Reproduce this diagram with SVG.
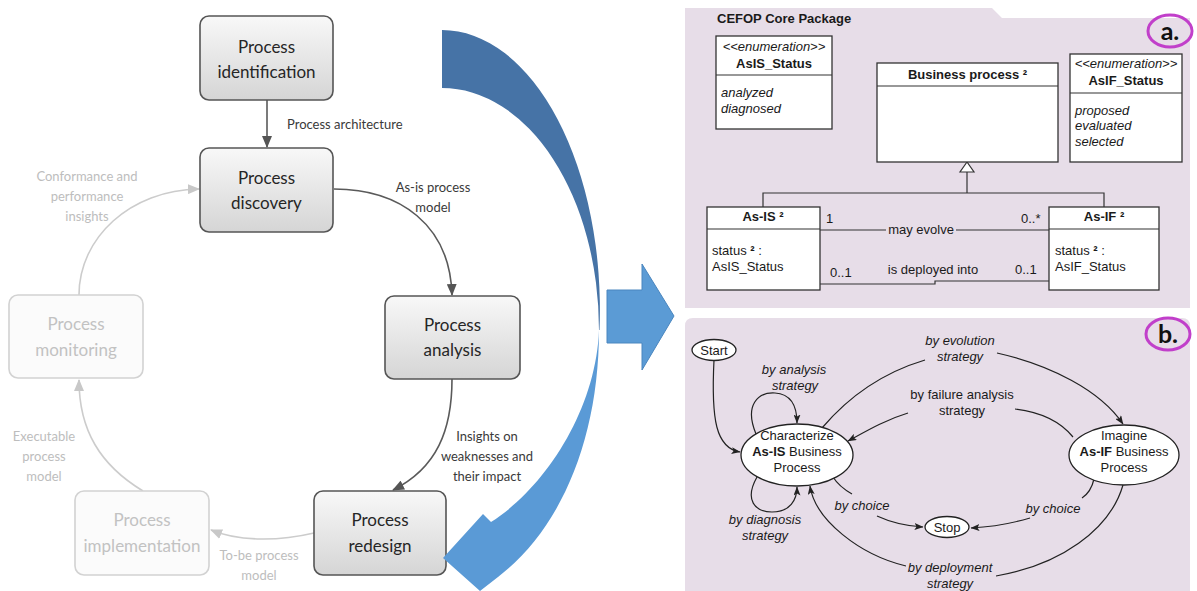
<svg xmlns="http://www.w3.org/2000/svg" width="1197" height="591" viewBox="0 0 1197 591">
<defs>
<style>
.nd{fill:url(#gNode);stroke:#555;stroke-width:1.6}
.nl{fill:#fbfbfb;stroke:#d2d2d2;stroke-width:1.6}
.tn{font-family:Lato,"Open Sans",sans-serif;font-size:17px;fill:#262626;text-anchor:middle}
.tl{font-family:Lato,"Open Sans",sans-serif;font-size:17px;fill:#c2c2c2;text-anchor:middle}
.lb{font-family:Lato,"Open Sans",sans-serif;font-size:13px;fill:#3a3a3a}
.lg{font-family:Lato,"Open Sans",sans-serif;font-size:13px;fill:#bdbdbd;text-anchor:middle}
.cd{fill:none;stroke:#5a5a5a;stroke-width:1.6}
.cl{fill:none;stroke:#cccccc;stroke-width:1.6}
.panel{fill:#e7dde8}
.box{fill:#fff;stroke:#333;stroke-width:1.3}
.u{font-family:"Liberation Sans",Arial,sans-serif;font-size:13px;fill:#1a1a1a}
.ub{font-family:"Liberation Sans",Arial,sans-serif;font-size:13px;font-weight:bold;fill:#1a1a1a;text-anchor:middle}
.ui{font-family:"Liberation Sans",Arial,sans-serif;font-size:13px;font-style:italic;fill:#1a1a1a}
.ul{fill:none;stroke:#333;stroke-width:1.2}
.st{fill:#fff;stroke:#222;stroke-width:1.3}
.sl{fill:none;stroke:#222;stroke-width:1.2}
.ring{fill:none;stroke:#c13fca;stroke-width:3}
.tag{font-family:Lato,"Open Sans",sans-serif;font-size:25px;font-weight:bold;fill:#111;text-anchor:middle}
</style>
<linearGradient id="gNode" x1="0" y1="0" x2="0" y2="1">
<stop offset="0" stop-color="#f8f8f8"/>
<stop offset="1" stop-color="#d5d5d5"/>
</linearGradient>
<marker id="ahD" viewBox="0 0 12 10" refX="11" refY="5" markerWidth="12" markerHeight="10" markerUnits="userSpaceOnUse" orient="auto">
<path d="M0,0 L12,5 L0,10 Z" fill="#555"/>
</marker>
<marker id="ahL" viewBox="0 0 12 10" refX="11" refY="5" markerWidth="12" markerHeight="10" markerUnits="userSpaceOnUse" orient="auto">
<path d="M0,0 L12,5 L0,10 Z" fill="#c8c8c8"/>
</marker>
<marker id="ahB" viewBox="0 0 9 7" refX="8.5" refY="3.5" markerWidth="9" markerHeight="7" markerUnits="userSpaceOnUse" orient="auto">
<path d="M0,0 L9,3.5 L0,7 L2,3.5 Z" fill="#222"/>
</marker>
</defs>
<rect x="0" y="0" width="1197" height="591" fill="#fff"/>

<!-- Left: BPM lifecycle -->
<g id="bpm-connectors">
<path class="cd" d="M267,100 L267,147" marker-end="url(#ahD)"/>
<path class="cd" d="M334,189 C400,189 450,225 452,295" marker-end="url(#ahD)"/>
<path class="cd" d="M452,379 C452,430 437,468 393,490" marker-end="url(#ahD)"/>
<path class="cl" d="M314,533 C280,541 240,542 211,530" marker-end="url(#ahL)"/>
<path class="cl" d="M143,491 C100,465 79,430 79,380" marker-end="url(#ahL)"/>
<path class="cl" d="M79,295 C79,238 130,190 199,189" marker-end="url(#ahL)"/>
</g>
<g id="bpm-labels">
<text class="lb" x="287" y="129">Process architecture</text>
<text class="lb" x="433" y="192" text-anchor="middle">As-is process</text>
<text class="lb" x="433" y="212" text-anchor="middle">model</text>
<text class="lb" x="487" y="441" text-anchor="middle">Insights on</text>
<text class="lb" x="487" y="461" text-anchor="middle">weaknesses and</text>
<text class="lb" x="487" y="481" text-anchor="middle">their impact</text>
<text class="lg" x="259" y="560">To-be process</text>
<text class="lg" x="259" y="580">model</text>
<text class="lg" x="44" y="441">Executable</text>
<text class="lg" x="44" y="461">process</text>
<text class="lg" x="44" y="481">model</text>
<text class="lg" x="87" y="181">Conformance and</text>
<text class="lg" x="87" y="201">performance</text>
<text class="lg" x="87" y="221">insights</text>
</g>
<g id="node-identification">
<rect class="nd" x="200" y="16" width="133" height="84" rx="9"/>
<text class="tn" x="266.5" y="53">Process</text>
<text class="tn" x="266.5" y="78">identification</text>
</g>
<g id="node-discovery">
<rect class="nd" x="200" y="148" width="133" height="84" rx="9"/>
<text class="tn" x="266.5" y="184">Process</text>
<text class="tn" x="266.5" y="209">discovery</text>
</g>
<g id="node-analysis">
<rect class="nd" x="385" y="296" width="135" height="83" rx="9"/>
<text class="tn" x="452.5" y="331">Process</text>
<text class="tn" x="452.5" y="356">analysis</text>
</g>
<g id="node-redesign">
<rect class="nd" x="314" y="491" width="132" height="84" rx="9"/>
<text class="tn" x="380" y="526">Process</text>
<text class="tn" x="380" y="552">redesign</text>
</g>
<g id="node-implementation">
<rect class="nl" x="75" y="491" width="134" height="84" rx="9"/>
<text class="tl" x="142" y="526">Process</text>
<text class="tl" x="142" y="552">implementation</text>
</g>
<g id="node-monitoring">
<rect class="nl" x="9" y="295" width="134" height="83" rx="9"/>
<text class="tl" x="76" y="330">Process</text>
<text class="tl" x="76" y="356">monitoring</text>
</g>

<!-- Big curved arrow -->
<g id="curved-arrow">
<path d="M442,30 A158,280 0 0 1 599.5,330 L599,330 A157,242 0 0 0 442,88 Z" fill="#4673a6"/>
<path d="M599,330 C599,440 560,530 498,577 L480,591 L443,558 L483,514 L491,522 C545,488 596,410 599,330 Z" fill="#5a9ad6"/>
</g>
<g id="block-arrow">
<path d="M607,290 L642,290 L642,264 L674,316 L642,370 L642,343 L607,343 Z" fill="#5b9bd5" stroke="#4a86bf" stroke-width="1"/>
</g>

<!-- Panel a -->
<g id="panel-a">
<path class="panel" d="M685,8 L992,8 L1002,18 L1190,18 L1190,308 L685,308 Z"/>
<text x="717" y="23" font-family="Liberation Sans, Arial, sans-serif" font-size="13" font-weight="bold" fill="#1a1a1a">CEFOP Core Package</text>
<ellipse class="ring" cx="1170" cy="31" rx="22" ry="16" fill="#fff"/>
<text class="tag" x="1170" y="40">a.</text>
</g>
<g id="uml-connectors">
<polyline class="ul" points="763,207 763,193 1104,193 1104,207"/>
<line class="ul" x1="967" y1="193" x2="967" y2="172"/>
<polygon points="967,162 960,172 974,172" fill="#fff" stroke="#333" stroke-width="1.2"/>
<line class="ul" x1="820" y1="230" x2="886" y2="230"/>
<line class="ul" x1="956" y1="230" x2="1049" y2="230"/>
<polyline class="ul" points="820,284 935,284 935,281 1049,281"/>
<text class="u" x="826" y="223">1</text>
<text class="u" x="1021" y="223">0..*</text>
<text class="u" x="921" y="234" text-anchor="middle" font-size="13.5">may evolve</text>
<text class="u" x="830" y="277">0..1</text>
<text class="u" x="933" y="274" text-anchor="middle" font-size="13.5">is deployed into</text>
<text class="u" x="1015" y="274">0..1</text>
</g>
<g id="class-asis-status">
<rect class="box" x="716" y="36" width="116" height="93"/>
<line class="ul" x1="716" y1="75" x2="832" y2="75"/>
<text class="ui" x="774" y="51" text-anchor="middle" font-size="13.5">&lt;&lt;enumeration&gt;&gt;</text>
<text class="ub" x="774" y="67.5" font-size="13.5">AsIS_Status</text>
<text class="ui" x="721" y="97">analyzed</text>
<text class="ui" x="721" y="113">diagnosed</text>
</g>
<g id="class-business-process">
<rect class="box" x="877" y="63" width="181" height="99"/>
<line class="ul" x1="877" y1="86" x2="1058" y2="86"/>
<text class="ub" x="967.5" y="78.5">Business process ²</text>
</g>
<g id="class-asif-status">
<rect class="box" x="1070" y="54" width="112" height="108"/>
<line class="ul" x1="1070" y1="93" x2="1182" y2="93"/>
<text class="ui" x="1126" y="67.5" text-anchor="middle" font-size="13.5">&lt;&lt;enumeration&gt;&gt;</text>
<text class="ub" x="1126" y="84.5" font-size="13.5">AsIF_Status</text>
<text class="ui" x="1075" y="114.5">proposed</text>
<text class="ui" x="1075" y="130">evaluated</text>
<text class="ui" x="1075" y="145.5">selected</text>
</g>
<g id="class-asis">
<rect class="box" x="707" y="207" width="113" height="83"/>
<line class="ul" x1="707" y1="229" x2="820" y2="229"/>
<text class="ub" x="763" y="221">As-IS ²</text>
<text class="u" x="712" y="254.5">status <tspan font-weight="bold">²</tspan> :</text>
<text class="u" x="712" y="271">AsIS_Status</text>
</g>
<g id="class-asif">
<rect class="box" x="1049" y="207" width="110" height="83"/>
<line class="ul" x1="1049" y1="229" x2="1159" y2="229"/>
<text class="ub" x="1104" y="221">As-IF ²</text>
<text class="u" x="1055" y="254.5">status <tspan font-weight="bold">²</tspan> :</text>
<text class="u" x="1055" y="271">AsIF_Status</text>
</g>

<!-- Panel b -->
<g id="panel-b">
<path class="panel" d="M693,318 L1182,318 Q1190,318 1190,326 L1190,591 L685,591 L685,326 Q685,318 693,318 Z"/>
<ellipse class="ring" cx="1168" cy="334" rx="22" ry="16" fill="#fff"/>
<text class="tag" x="1168" y="343">b.</text>
</g>
<g id="map-connectors">
<path class="sl" d="M714,360 C711,420 716,448 740,452" marker-end="url(#ahB)"/>
<path class="sl" d="M756,434 C744,405 758,392 775,393 C790,394 797,405 797,423" marker-end="url(#ahB)"/>
<path class="sl" d="M757,477 C744,500 755,512 772,512 C790,512 797,500 797,487" marker-end="url(#ahB)"/>
<path class="sl" d="M822,428 C850,395 885,372 925,360"/>
<path class="sl" d="M997,353 C1050,365 1100,390 1123,424" marker-end="url(#ahB)"/>
<path class="sl" d="M1073,437 C1060,421 1040,412 1015,409"/>
<path class="sl" d="M908,413 C885,420 868,430 848,441" marker-end="url(#ahB)"/>
<path class="sl" d="M833,477 C838,485 845,490 852,494"/>
<path class="sl" d="M877,516 C890,522 905,526 923,527" marker-end="url(#ahB)"/>
<path class="sl" d="M1094,479 C1092,488 1088,494 1082,498"/>
<path class="sl" d="M1030,518 C1010,524 990,527 971,528" marker-end="url(#ahB)"/>
<path class="sl" d="M1123,485 C1110,530 1060,565 996,576"/>
<path class="sl" d="M906,566 C860,555 815,520 810,486" marker-end="url(#ahB)"/>
<text class="ui" x="960" y="345" text-anchor="middle" font-size="13.5">by evolution</text>
<text class="ui" x="960" y="361" text-anchor="middle" font-size="13.5">strategy</text>
<text class="u" x="962" y="399" text-anchor="middle" font-size="13.5">by failure analysis</text>
<text class="u" x="962" y="415" text-anchor="middle" font-size="13.5">strategy</text>
<text class="ui" x="794" y="374" text-anchor="middle" font-size="13.5">by analysis</text>
<text class="ui" x="795" y="390" text-anchor="middle" font-size="13.5">strategy</text>
<text class="ui" x="765" y="524" text-anchor="middle" font-size="13.5">by diagnosis</text>
<text class="ui" x="765" y="540" text-anchor="middle" font-size="13.5">strategy</text>
<text class="ui" x="862" y="510" text-anchor="middle" font-size="13.5">by choice</text>
<text class="ui" x="1053" y="513" text-anchor="middle" font-size="13.5">by choice</text>
<text class="ui" x="950" y="572" text-anchor="middle" font-size="13.5">by deployment</text>
<text class="ui" x="950" y="588" text-anchor="middle" font-size="13.5">strategy</text>
</g>
<g id="state-start">
<ellipse class="st" cx="714" cy="350" rx="22" ry="10.5"/>
<text class="u" x="714" y="354.5" text-anchor="middle">Start</text>
</g>
<g id="state-characterize">
<ellipse class="st" cx="797" cy="455" rx="56" ry="31"/>
<text class="u" x="797" y="440" text-anchor="middle" font-size="13.5">Characterize</text>
<text class="u" x="797" y="456" text-anchor="middle" font-size="13.5"><tspan font-weight="bold">As-IS</tspan> Business</text>
<text class="u" x="797" y="472" text-anchor="middle" font-size="13.5">Process</text>
</g>
<g id="state-imagine">
<ellipse class="st" cx="1124" cy="455" rx="55" ry="30"/>
<text class="u" x="1124" y="440" text-anchor="middle" font-size="13.5">Imagine</text>
<text class="u" x="1124" y="456" text-anchor="middle" font-size="13.5"><tspan font-weight="bold">As-IF</tspan> Business</text>
<text class="u" x="1124" y="472" text-anchor="middle" font-size="13.5">Process</text>
</g>
<g id="state-stop">
<ellipse class="st" cx="947" cy="527" rx="22" ry="10.5"/>
<text class="u" x="947" y="531.5" text-anchor="middle">Stop</text>
</g>
</svg>
